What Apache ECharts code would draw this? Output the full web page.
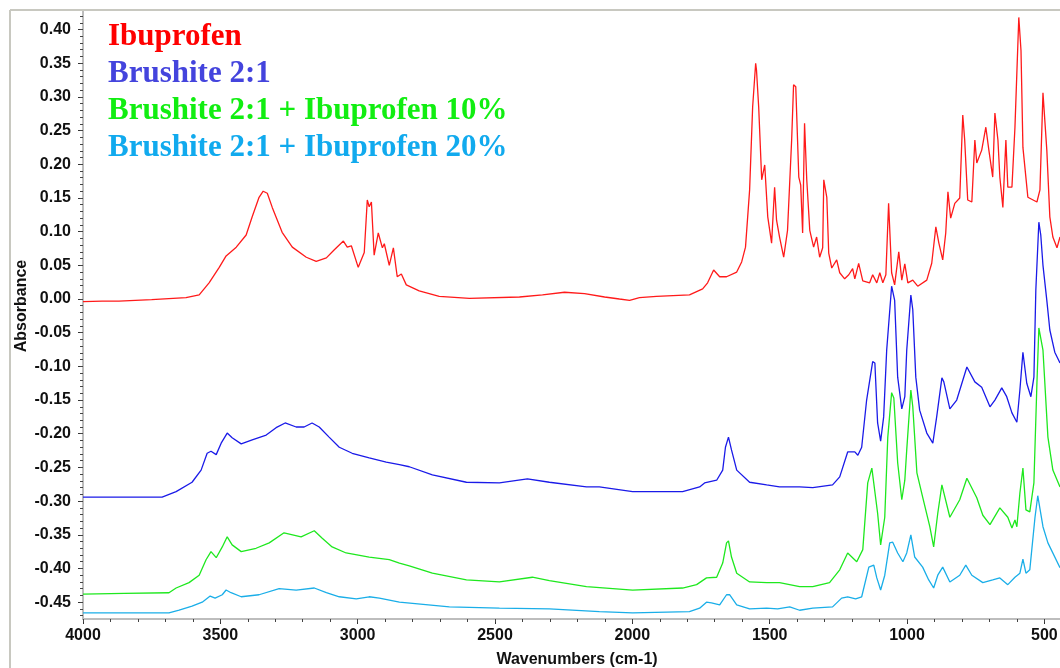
<!DOCTYPE html>
<html>
<head>
<meta charset="utf-8">
<script src="https://cdn.jsdelivr.net/npm/echarts@6/dist/echarts.min.js"></script>
<style>
  html, body { margin: 0; padding: 0; background: #ffffff; }
  #chart { width: 1060px; height: 668px; }
</style>
</head>
<body>
<div id="chart"></div>
<script>
// FTIR absorbance spectra: [wavenumber (cm-1), absorbance]
const ibuprofen = [
  [4000,-0.004],[3930,-0.003],[3869,-0.003],[3750,-0.001],[3625,0.002],[3577,0.006],[3541,0.024],[3504,0.047],
  [3479,0.064],[3442,0.077],[3406,0.095],[3384,0.122],[3359,0.151],[3344,0.160],[3329,0.157],[3311,0.136],
  [3275,0.099],[3238,0.077],[3187,0.062],[3151,0.056],[3114,0.061],[3085,0.073],[3052,0.086],[3038,0.077],
  [3023,0.079],[2998,0.047],[2976,0.069],[2965,0.147],[2958,0.137],[2950,0.144],[2940,0.065],[2925,0.098],
  [2910,0.076],[2903,0.082],[2885,0.050],[2870,0.076],[2856,0.033],[2841,0.037],[2823,0.021],[2776,0.012],
  [2703,0.004],[2593,0.001],[2411,0.003],[2327,0.006],[2247,0.010],[2174,0.008],[2101,0.003],[2047,0.000],
  [2010,-0.002],[1974,0.002],[1912,0.004],[1792,0.006],[1744,0.015],[1726,0.024],[1704,0.043],[1682,0.033],
  [1657,0.033],[1620,0.040],[1602,0.055],[1588,0.077],[1573,0.162],[1562,0.285],[1551,0.350],[1548,0.340],
  [1540,0.285],[1529,0.177],[1518,0.199],[1507,0.122],[1493,0.083],[1482,0.166],[1475,0.117],[1464,0.092],
  [1449,0.062],[1435,0.102],[1420,0.236],[1413,0.318],[1405,0.315],[1394,0.181],[1387,0.169],[1380,0.098],
  [1373,0.261],[1365,0.177],[1354,0.102],[1340,0.077],[1329,0.092],[1318,0.062],[1307,0.076],[1303,0.177],
  [1292,0.151],[1285,0.068],[1274,0.046],[1256,0.058],[1245,0.039],[1227,0.030],[1212,0.036],[1198,0.045],
  [1190,0.030],[1176,0.053],[1161,0.027],[1136,0.024],[1125,0.036],[1110,0.024],[1099,0.039],[1088,0.024],
  [1077,0.036],[1067,0.142],[1056,0.039],[1045,0.021],[1030,0.070],[1019,0.028],[1008,0.052],[997,0.024],
  [979,0.028],[961,0.019],[954,0.021],[928,0.028],[910,0.053],[895,0.107],[884,0.083],[870,0.058],
  [859,0.098],[851,0.159],[841,0.120],[826,0.142],[808,0.150],[797,0.273],[790,0.236],[779,0.147],
  [764,0.144],[753,0.236],[746,0.202],[728,0.221],[713,0.255],[702,0.221],[688,0.181],[680,0.276],
  [669,0.236],[662,0.181],[651,0.136],[640,0.236],[633,0.166],[618,0.166],[607,0.255],[593,0.418],
  [585,0.369],[578,0.225],[560,0.151],[527,0.144],[516,0.162],[505,0.306],[491,0.221],[480,0.122],
  [469,0.092],[454,0.076],[443,0.092]
];

const brushite = [
  [4000,-0.294],[3850,-0.294],[3712,-0.294],[3661,-0.286],[3603,-0.272],[3570,-0.254],[3548,-0.229],[3534,-0.226],
  [3515,-0.231],[3497,-0.214],[3475,-0.199],[3457,-0.206],[3424,-0.215],[3384,-0.209],[3333,-0.202],[3297,-0.191],
  [3264,-0.184],[3224,-0.190],[3195,-0.190],[3166,-0.184],[3140,-0.190],[3104,-0.205],[3067,-0.220],[3020,-0.229],
  [2958,-0.236],[2896,-0.242],[2848,-0.246],[2812,-0.249],[2728,-0.261],[2604,-0.272],[2484,-0.273],[2382,-0.267],
  [2302,-0.272],[2167,-0.279],[2120,-0.279],[1999,-0.286],[1817,-0.286],[1755,-0.279],[1737,-0.273],[1693,-0.269],
  [1671,-0.254],[1661,-0.220],[1650,-0.205],[1639,-0.224],[1620,-0.254],[1573,-0.272],[1511,-0.276],[1464,-0.279],
  [1391,-0.279],[1343,-0.280],[1271,-0.276],[1245,-0.264],[1216,-0.227],[1190,-0.227],[1179,-0.232],[1165,-0.220],
  [1147,-0.150],[1125,-0.093],[1117,-0.095],[1107,-0.184],[1096,-0.211],[1085,-0.175],[1074,-0.076],[1056,0.019],
  [1045,-0.002],[1034,-0.116],[1019,-0.163],[1008,-0.145],[1001,-0.076],[986,0.006],[979,-0.016],[968,-0.116],
  [954,-0.165],[928,-0.199],[906,-0.214],[892,-0.175],[873,-0.117],[866,-0.123],[844,-0.163],[819,-0.150],
  [782,-0.101],[753,-0.123],[728,-0.131],[698,-0.160],[680,-0.150],[655,-0.132],[637,-0.145],[618,-0.169],
  [600,-0.183],[589,-0.135],[578,-0.079],[564,-0.125],[549,-0.145],[538,-0.116],[531,0.013],[520,0.114],
  [513,0.095],[505,0.050],[491,-0.002],[480,-0.046],[462,-0.079],[443,-0.095]
];

const brushiteIbu10 = [
  [4000,-0.438],[3850,-0.437],[3687,-0.436],[3661,-0.429],[3614,-0.421],[3577,-0.410],[3552,-0.387],[3534,-0.375],
  [3515,-0.384],[3493,-0.368],[3475,-0.353],[3457,-0.365],[3424,-0.375],[3370,-0.370],[3322,-0.362],[3268,-0.347],
  [3206,-0.353],[3158,-0.344],[3129,-0.355],[3093,-0.368],[3042,-0.377],[2958,-0.383],[2885,-0.387],[2848,-0.392],
  [2812,-0.396],[2728,-0.407],[2604,-0.417],[2484,-0.420],[2364,-0.413],[2302,-0.418],[2167,-0.427],[1999,-0.432],
  [1817,-0.429],[1766,-0.424],[1730,-0.414],[1693,-0.413],[1671,-0.392],[1657,-0.362],[1650,-0.359],[1639,-0.383],
  [1620,-0.407],[1573,-0.420],[1511,-0.421],[1464,-0.421],[1391,-0.427],[1343,-0.427],[1282,-0.421],[1245,-0.402],
  [1216,-0.377],[1183,-0.390],[1161,-0.372],[1143,-0.273],[1128,-0.251],[1121,-0.249],[1107,-0.318],[1096,-0.365],
  [1081,-0.324],[1070,-0.205],[1056,-0.139],[1048,-0.147],[1034,-0.243],[1019,-0.298],[1008,-0.269],[1001,-0.224],
  [986,-0.135],[979,-0.160],[964,-0.258],[943,-0.294],[917,-0.338],[903,-0.368],[888,-0.318],[873,-0.276],
  [844,-0.324],[808,-0.298],[782,-0.266],[746,-0.295],[724,-0.321],[698,-0.335],[662,-0.310],[633,-0.324],
  [618,-0.340],[607,-0.328],[600,-0.338],[589,-0.288],[578,-0.251],[567,-0.313],[553,-0.316],[538,-0.273],
  [527,-0.125],[520,-0.043],[505,-0.076],[487,-0.205],[469,-0.254],[443,-0.279]
];

const brushiteIbu20 = [
  [4000,-0.466],[3850,-0.466],[3687,-0.466],[3650,-0.462],[3603,-0.456],[3566,-0.450],[3537,-0.441],[3519,-0.444],
  [3493,-0.439],[3479,-0.432],[3461,-0.436],[3424,-0.442],[3359,-0.439],[3286,-0.430],[3224,-0.432],[3158,-0.429],
  [3114,-0.436],[3067,-0.442],[3005,-0.445],[2958,-0.442],[2921,-0.444],[2848,-0.450],[2666,-0.457],[2484,-0.459],
  [2302,-0.460],[2120,-0.464],[1999,-0.466],[1792,-0.464],[1755,-0.459],[1730,-0.450],[1712,-0.451],[1682,-0.454],
  [1657,-0.439],[1646,-0.439],[1620,-0.454],[1573,-0.460],[1511,-0.459],[1471,-0.460],[1427,-0.457],[1391,-0.462],
  [1343,-0.459],[1271,-0.457],[1238,-0.444],[1216,-0.442],[1187,-0.445],[1165,-0.442],[1139,-0.398],[1121,-0.395],
  [1110,-0.414],[1096,-0.432],[1081,-0.410],[1063,-0.362],[1052,-0.361],[1034,-0.377],[1015,-0.390],[1001,-0.377],
  [986,-0.350],[972,-0.383],[943,-0.398],[921,-0.417],[903,-0.429],[888,-0.410],[870,-0.398],[844,-0.420],
  [808,-0.410],[786,-0.395],[764,-0.410],[724,-0.421],[688,-0.417],[662,-0.414],[633,-0.424],[607,-0.413],
  [589,-0.407],[578,-0.386],[567,-0.407],[553,-0.402],[534,-0.324],[524,-0.292],[505,-0.338],[487,-0.362],
  [443,-0.399]
];

const seriesNames = ['Ibuprofen', 'Brushite 2:1', 'Brushite 2:1 + Ibuprofen 10%', 'Brushite 2:1 + Ibuprofen 20%'];
const lineColors = ['#ff1a1a', '#1a1ae8', '#1ee81e', '#1aaee8'];
const nameColors = ['#ff0000', '#4444dd', '#11ee11', '#11aaee'];

const xMajorTicks = [4000, 3500, 3000, 2500, 2000, 1500, 1000, 500];
const yMajorTicks = [0.40, 0.35, 0.30, 0.25, 0.20, 0.15, 0.10, 0.05, 0.00, -0.05, -0.10, -0.15, -0.20, -0.25, -0.30, -0.35, -0.40, -0.45];

const xMin = 443, xMax = 4000;
const yMin = -0.475, yMax = 0.429;

const xMinorTicks = [];
for (let w = 4000; w >= 500; w -= 100) xMinorTicks.push(w);
const yMinorTicks = [];
for (let k = -47; k <= 42; k++) yMinorTicks.push(k / 100);

const tickFont = { fontFamily: 'Liberation Sans, Arial, sans-serif', fontWeight: 'bold', fontSize: 16, color: '#111' };

const chart = echarts.init(document.getElementById('chart'), null, { renderer: 'canvas' });

const seriesData = [ibuprofen, brushite, brushiteIbu10, brushiteIbu20];

chart.setOption({
  animation: false,
  backgroundColor: '#ffffff',
  grid: { left: 83, top: 10, right: 0, bottom: 49, containLabel: false, outerBoundsMode: 'none' },
  xAxis: [
    {
      type: 'value', inverse: true, min: xMin, max: xMax, position: 'bottom',
      axisLine: { show: true, onZero: false, lineStyle: { color: '#bdbdbd', width: 2 } },
      axisTick: { show: true, customValues: xMajorTicks, length: 5, lineStyle: { color: '#333', width: 1 } },
      axisLabel: Object.assign({ customValues: xMajorTicks, margin: 9, formatter: v => String(v) }, tickFont),
      splitLine: { show: false }
    },
    {
      type: 'value', inverse: true, min: xMin, max: xMax, position: 'bottom',
      axisLine: { show: false, onZero: false },
      axisTick: { show: true, customValues: xMinorTicks, length: 3, lineStyle: { color: '#444', width: 1 } },
      axisLabel: { show: false },
      splitLine: { show: false }
    }
  ],
  yAxis: [
    {
      type: 'value', min: yMin, max: yMax, position: 'left',
      axisLine: { show: true, onZero: false, lineStyle: { color: '#bdbdbd', width: 2 } },
      axisTick: { show: true, customValues: yMajorTicks, length: 5, lineStyle: { color: '#333', width: 1 } },
      axisLabel: Object.assign({ customValues: yMajorTicks, margin: 12, formatter: v => v.toFixed(2) }, tickFont),
      splitLine: { show: false }
    },
    {
      type: 'value', min: yMin, max: yMax, position: 'left',
      axisLine: { show: false, onZero: false },
      axisTick: { show: true, customValues: yMinorTicks, length: 3, lineStyle: { color: '#444', width: 1 } },
      axisLabel: { show: false },
      splitLine: { show: false }
    }
  ],
  series: seriesData.map((d, i) => ({
    name: seriesNames[i],
    type: 'line',
    xAxisIndex: 0,
    yAxisIndex: 0,
    data: d,
    showSymbol: false,
    symbol: 'none',
    smooth: false,
    silent: true,
    clip: true,
    lineStyle: { color: lineColors[i], width: 1.3 },
    z: 10 - i
  })),
  graphic: [
    // outer frame
    { type: 'line', shape: { x1: 10, y1: 10, x2: 10, y2: 668 }, style: { stroke: '#c8c8c0', lineWidth: 2 }, z: 100 },
    { type: 'line', shape: { x1: 10, y1: 10, x2: 1060, y2: 10 }, style: { stroke: '#c8c8c0', lineWidth: 2 }, z: 100 },
    // axis titles
    {
      type: 'text', x: 577, y: 660,
      style: { text: 'Wavenumbers (cm-1)', font: 'bold 16px "Liberation Sans", Arial, sans-serif', fill: '#111',
               textAlign: 'center', textVerticalAlign: 'middle', align: 'center', verticalAlign: 'middle' }
    },
    {
      type: 'text', x: 22, y: 306, rotation: Math.PI / 2,
      style: { text: 'Absorbance', font: 'bold 16px "Liberation Sans", Arial, sans-serif', fill: '#111',
               textAlign: 'center', textVerticalAlign: 'middle', align: 'center', verticalAlign: 'middle' }
    }
  ].concat(seriesNames.map((name, i) => ({
    type: 'text', x: 108, y: 37 + i * 37,
    style: { text: name, font: 'bold 31px "Liberation Serif", "Times New Roman", serif', fill: nameColors[i],
             textAlign: 'left', textVerticalAlign: 'middle', align: 'left', verticalAlign: 'middle' },
    z: 50
  })))
});
</script>
</body>
</html>
